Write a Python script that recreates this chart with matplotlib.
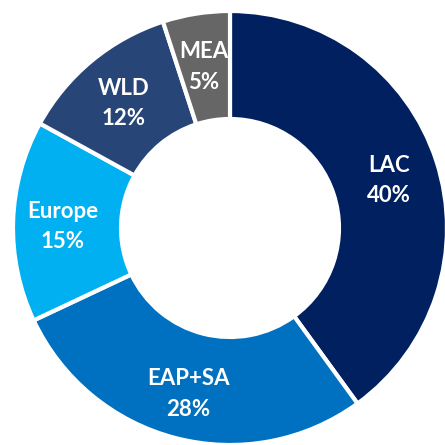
import matplotlib
matplotlib.use("Agg")
import matplotlib.pyplot as plt

# region shares, clockwise from 12 o'clock
regions = ["LAC", "EAP+SA", "Europe", "WLD", "MEA"]
shares = [40, 28, 15, 12, 5]
colors = ["#002060", "#0070C0", "#00B0F0", "#284578", "#666666"]

plt.rcParams["font.family"] = ["Lato", "DejaVu Sans"]

fig = plt.figure(figsize=(4.45, 4.45), dpi=100)
ax = fig.add_axes([0, 0, 1, 1])

labels = [f"{r}\n{s}%" for r, s in zip(regions, shares)]
wedges, texts = ax.pie(
    shares, labels=labels, colors=colors, startangle=90, counterclock=False,
    center=(230, 217), radius=217, labeldistance=0.77,
    wedgeprops=dict(width=108, edgecolor="white", linewidth=3),
    textprops=dict(color="white", fontsize=16, fontweight="bold"),
)
for t in texts:
    t.set_ha("center")
    t.set_va("center")
    t.set_linespacing(1.55)
    x, y = t.get_position()
    t.set_position((x, y - 4))

ax.set_xlim(0, 445)
ax.set_ylim(0, 445)
ax.set_aspect("equal")
ax.axis("off")

fig.savefig("out.png", dpi=100)
